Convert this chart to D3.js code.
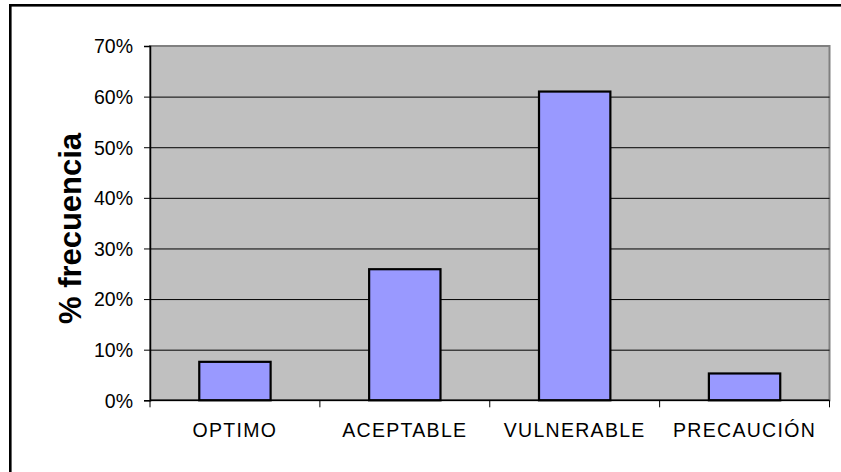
<!DOCTYPE html>
<html><head><meta charset="utf-8">
<script src="https://cdn.jsdelivr.net/npm/d3@7"></script>
<style>
html,body{margin:0;padding:0;background:#fff;}
svg{display:block;}
text{font-family:"Liberation Sans",Arial,sans-serif;fill:#000;}
</style></head>
<body>
<svg id="chart" width="841" height="472"></svg>
<script>
const categories = ["OPTIMO", "ACEPTABLE", "VULNERABLE", "PRECAUCIÓN"];
const values = [7.6, 25.9, 61.0, 5.3];
const yTicks = [0, 10, 20, 30, 40, 50, 60, 70];
const yTitle = "% frecuencia";

const svg = d3.select("#chart");
const pLeft = 150, pRight = 829.5, pTop = 46, pBottom = 400.3;

// outer frame (extends beyond the visible area)
svg.append("rect").attr("x", 10.3).attr("y", 5.3).attr("width", 1000).attr("height", 1000)
  .attr("fill", "#fff").attr("stroke", "#000").attr("stroke-width", 2.6);

const x = d3.scaleBand().domain(categories).range([pLeft, pRight]).padding(0);
const y = d3.scaleLinear().domain([0, 70]).range([pBottom, pTop]);

// plot background
svg.append("rect").attr("x", pLeft).attr("y", pTop).attr("width", pRight - pLeft).attr("height", pBottom - pTop)
  .attr("fill", "#C0C0C0").attr("stroke", "#808080").attr("stroke-width", 2);

// gridlines
svg.append("g").attr("transform", `translate(${pLeft},0)`)
  .call(d3.axisLeft(y).tickValues(yTicks.filter(t => t > 0 && t < 70)).tickSize(-(pRight - pLeft)).tickFormat(""))
  .call(g => g.select(".domain").remove())
  .call(g => g.selectAll("line").attr("stroke", "#000").attr("stroke-width", 1));

// bars
const barW = x.bandwidth() * 0.42;
svg.append("g").selectAll("rect").data(values).join("rect")
  .attr("x", (d, i) => x(categories[i]) + (x.bandwidth() - barW) / 2)
  .attr("y", d => y(d))
  .attr("width", barW)
  .attr("height", d => y(0) - y(d))
  .attr("fill", "#9999FF").attr("stroke", "#000").attr("stroke-width", 2.2);

// y axis
svg.append("g").attr("transform", `translate(${pLeft},0)`)
  .call(d3.axisLeft(y).tickValues(yTicks).tickSize(6).tickPadding(11).tickFormat(d => d + "%"))
  .call(g => g.select(".domain").attr("stroke", "#000").attr("stroke-width", 1.5))
  .call(g => g.selectAll(".tick line").attr("stroke", "#000"))
  .call(g => g.selectAll(".tick text").attr("font-size", 19.5).attr("fill", "#000").attr("dy", "0.35em")
     .style("font-family", '"Liberation Sans",Arial,sans-serif'));

// x axis
const xAxisG = svg.append("g").attr("transform", `translate(0,${pBottom})`);
xAxisG.append("line").attr("x1", pLeft).attr("x2", pRight).attr("y1", 0).attr("y2", 0)
  .attr("stroke", "#000").attr("stroke-width", 1.5);
const bounds = categories.map(c => x(c)).concat([pRight]);
xAxisG.selectAll("line.tk").data(bounds).join("line").attr("class", "tk")
  .attr("x1", d => d).attr("x2", d => d).attr("y1", 0).attr("y2", 7)
  .attr("stroke", "#000").attr("stroke-width", 1);
xAxisG.selectAll("text").data(categories).join("text")
  .attr("x", d => x(d) + x.bandwidth() / 2)
  .attr("y", 37)
  .attr("text-anchor", "middle")
  .attr("font-size", 19.5)
  .attr("letter-spacing", "1.3px")
  .text(d => d);

// y title
svg.append("text")
  .attr("transform", `translate(81,${(133 + 324) / 2}) rotate(-90)`)
  .attr("text-anchor", "middle")
  .attr("font-size", 31).attr("font-weight", "bold")
  .attr("textLength", 191).attr("lengthAdjust", "spacingAndGlyphs")
  .text(yTitle);
</script>
</body></html>
